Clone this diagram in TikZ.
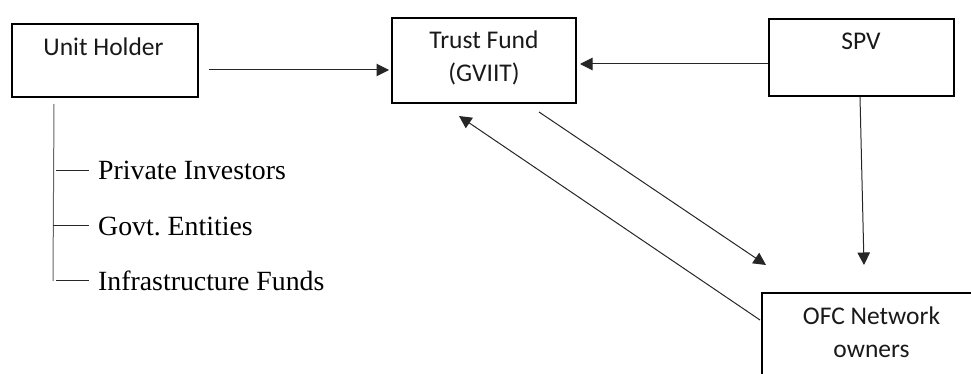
\documentclass[tikz,border=0pt]{standalone}
\usepackage{fontspec}
\setmainfont{Liberation Serif}
\newfontfamily\boxfont{Carlito}
\usetikzlibrary{arrows.meta}
\frenchspacing
\begin{document}
\begin{tikzpicture}[x=1pt,y=-1pt,
  box/.style={draw=black, line width=2pt, inner sep=0pt, anchor=north west},
  lbl/.style={inner sep=0pt, anchor=base, text=black!90,
              font=\boxfont\fontsize{25.5}{33}\selectfont},
  item/.style={inner sep=0pt, anchor=base west,
               font=\fontsize{27.8}{33}\selectfont},
  arr/.style={draw=black!85, line width=1pt,
              -{Triangle[length=12.5pt,width=12.5pt]}},
  trunkline/.style={draw=black!60, line width=1pt},
  branch/.style={draw=black!85, line width=1pt}]
  \useasboundingbox (0,0) rectangle (971,374);
  \clip (0,0) rectangle (971,374);

  % boxes
  \node[box, minimum width=186pt, minimum height=73pt] (uh) at (11,23) {};
  \node[box, minimum width=184pt, minimum height=85pt] (tf) at (391,17) {};
  \node[box, minimum width=185pt, minimum height=77pt] (spv) at (768,18) {};
  \node[box, minimum width=222pt, minimum height=100pt] (ofc) at (761,292) {};

  % box captions
  \node[lbl] (uht) at (103.5,56) {Unit Holder};
  \node[lbl] (tft1) at (484,48.3) {Trust Fund};
  \node[lbl] (tft2) at (484,81.7) {(GVIIT)};
  \node[lbl] (spvt) at (861,49.3) {SPV};
  \node[lbl] (ofct1) at (871.5,324.3) {OFC Network};
  \node[lbl] (ofct2) at (871.5,357.3) {owners};

  % unit holder categories
  \node[item] (pi) at (98,180) {Private Investors};
  \node[item] (ge) at (98,235) {Govt. Entities};
  \node[item] (inf) at (98,290) {Infrastructure Funds};

  % flows between the entities
  \draw[arr] ([shift={(10pt,-9.5pt)}]uh.east) -- ([shift={(-2pt,-9.5pt)}]tf.west);
  \draw[arr] ([yshift=-6.5pt]spv.west) -- ([shift={(3pt,-3.5pt)}]tf.east);
  \draw[arr] ([xshift=-1.5pt]spv.south) -- ([shift={(-9pt,27pt)}]ofc.north);
  \draw[arr] ([shift={(55pt,-8pt)}]tf.south) -- ([shift={(5pt,27pt)}]ofc.north west);
  \draw[arr] ([shift={(-1pt,-28pt)}]ofc.north west) -- ([shift={(-25pt,-12pt)}]tf.south);

  % category tree under the unit holder
  \draw[trunkline] ([shift={(-51pt,-6pt)}]uh.south) -- ([shift={(-45pt,-0.5pt)}]inf.west);
  \draw[branch] ([xshift=-9pt]pi.west) -- ([xshift=-42pt]pi.west);
  \draw[branch] ([xshift=-9pt]ge.west) -- ([xshift=-45pt]ge.west);
  \draw[branch] ([xshift=-9pt]inf.west) -- ([xshift=-42pt]inf.west);
\end{tikzpicture}
\end{document}
